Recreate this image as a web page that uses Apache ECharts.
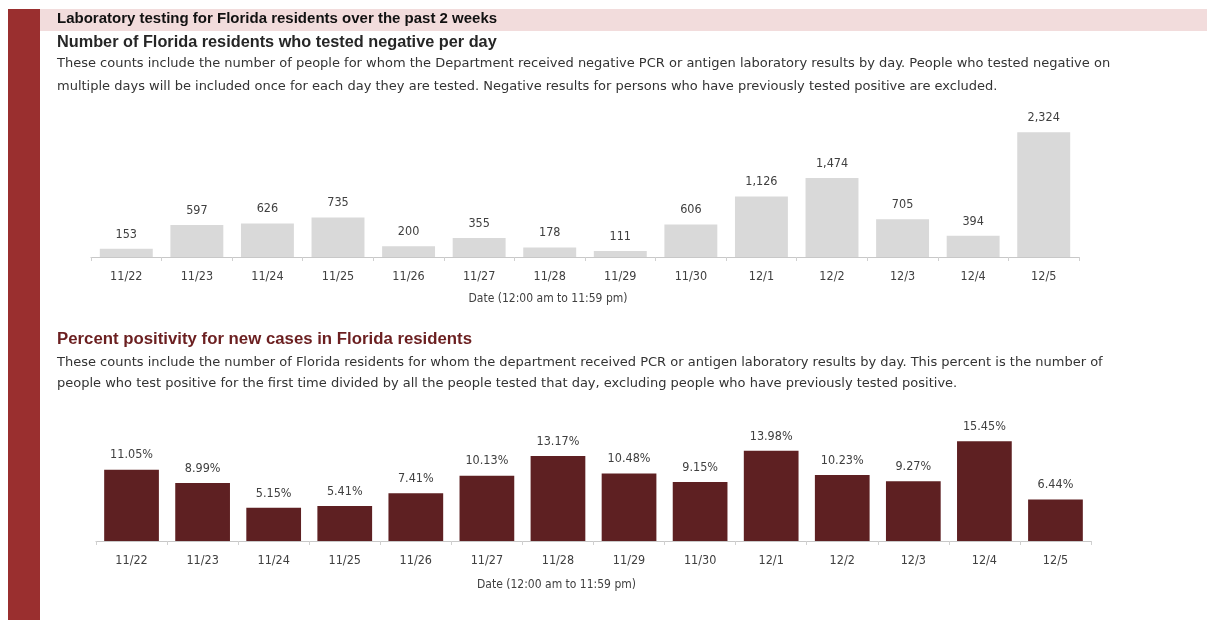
<!DOCTYPE html>
<html>
<head>
<meta charset="utf-8">
<script src="https://cdn.jsdelivr.net/npm/echarts@6/dist/echarts.min.js"></script>
<style>
html,body{margin:0;padding:0;background:#fff;}
#c{width:1207px;height:620px;}
</style>
</head>
<body>
<div id="c"></div>
<script>
const dates = ['11/22','11/23','11/24','11/25','11/26','11/27','11/28','11/29','11/30','12/1','12/2','12/3','12/4','12/5'];
const negatives = [153, 597, 626, 735, 200, 355, 178, 111, 606, 1126, 1474, 705, 394, 2324];
const positivity = [11.05, 8.99, 5.15, 5.41, 7.41, 10.13, 13.17, 10.48, 9.15, 13.98, 10.23, 9.27, 15.45, 6.44];

const headerTitle = 'Laboratory testing for Florida residents over the past 2 weeks';
const chart1Title = 'Number of Florida residents who tested negative per day';
const chart1Desc = [
  'These counts include the number of people for whom the Department received negative PCR or antigen laboratory results by day. People who tested negative on',
  'multiple days will be included once for each day they are tested. Negative results for persons who have previously tested positive are excluded.'
];
const chart2Title = 'Percent positivity for new cases in Florida residents';
const chart2Desc = [
  'These counts include the number of Florida residents for whom the department received PCR or antigen laboratory results by day. This percent is the number of',
  'people who test positive for the first time divided by all the people tested that day, excluding people who have previously tested positive.'
];
const axisName = 'Date (12:00 am to 11:59 pm)';

const FONT = '"Liberation Sans", Arial, sans-serif';
const DESC = '"DejaVu Sans", sans-serif';
const NARROW = '"Liberation Sans Narrow", "DejaVu Sans Condensed", "Liberation Sans", sans-serif';

const chart = echarts.init(document.getElementById('c'), null, {renderer: 'canvas'});

function txt(text, x, y, size, weight, color, family) {
  return {type: 'text', left: x, top: y, style: {text: text, fontSize: size, fontWeight: weight, fill: color, fontFamily: family || FONT}};
}

const axisCommon = {
  type: 'category',
  data: dates,
  axisLine: {lineStyle: {color: '#c8c8c8', width: 1.2}},
  axisTick: {show: true, length: 4, lineStyle: {color: '#d0d0d0'}},
  axisLabel: {color: '#404040', fontSize: 12.5, fontFamily: NARROW, margin: 13},
  nameLocation: 'middle',
  nameTextStyle: {color: '#404040', fontSize: 12, fontFamily: NARROW}
};

chart.setOption({
  animation: false,
  graphic: [
    {type: 'rect', left: 8, top: 9, shape: {width: 32, height: 611}, style: {fill: '#9a2f2f'}},
    {type: 'rect', left: 40, top: 9, shape: {width: 1167, height: 22}, style: {fill: '#f2dcdc'}},
    txt(headerTitle, 57, 11, 15, 'bold', '#111111'),
    txt(chart1Title, 57, 35, 16.3, 'bold', '#262626'),
    txt(chart1Desc[0], 57, 57, 13, 'normal', '#333333', DESC),
    txt(chart1Desc[1], 57, 80, 13, 'normal', '#333333', DESC),
    txt(chart2Title, 57, 331, 16.8, 'bold', '#6b1f20'),
    txt(chart2Desc[0], 57, 356, 13, 'normal', '#333333', DESC),
    txt(chart2Desc[1], 57, 377, 13, 'normal', '#333333', DESC)
  ],
  grid: [
    {left: 91, right: 128, top: 96, height: 161},
    {left: 96, right: 116, top: 412, height: 129}
  ],
  xAxis: [
    Object.assign({}, axisCommon, {gridIndex: 0, name: axisName, nameGap: 36,
      nameTextStyle: Object.assign({}, axisCommon.nameTextStyle, {padding: [0, 74, 0, 0]})}),
    Object.assign({}, axisCommon, {gridIndex: 1, name: axisName, nameGap: 38,
      nameTextStyle: Object.assign({}, axisCommon.nameTextStyle, {padding: [0, 74, 0, 0]})})
  ],
  yAxis: [
    {type: 'value', gridIndex: 0, min: 0, max: 3000, show: false, splitLine: {show: false}},
    {type: 'value', gridIndex: 1, min: 0, max: 20, show: false, splitLine: {show: false}}
  ],
  series: [
    {
      type: 'bar', xAxisIndex: 0, yAxisIndex: 0, data: negatives,
      barCategoryGap: '25%',
      itemStyle: {color: '#d9d9d9'},
      label: {show: true, position: 'top', distance: 8, color: '#404040', fontSize: 12.5, fontFamily: NARROW,
        formatter: p => p.value.toLocaleString('en-US')}
    },
    {
      type: 'bar', xAxisIndex: 1, yAxisIndex: 1, data: positivity,
      barCategoryGap: '23%',
      itemStyle: {color: '#5e2022'},
      label: {show: true, position: 'top', distance: 8, color: '#404040', fontSize: 12.5, fontFamily: NARROW,
        formatter: p => p.value.toFixed(2) + '%'}
    }
  ]
});
</script>
</body>
</html>
